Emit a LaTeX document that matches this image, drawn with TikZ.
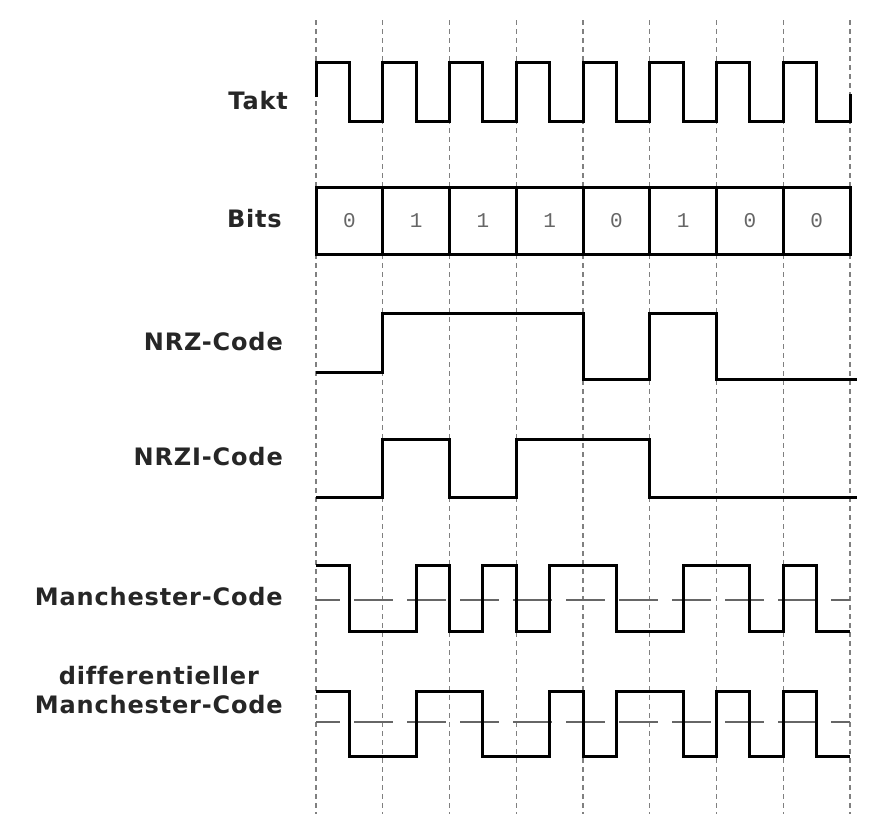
\documentclass[tikz,border=0pt]{standalone}
\usepackage{fontspec}
\newfontfamily\labfont{DejaVu Sans}[LetterSpace=3.5, Ligatures={NoCommon}]
\newfontfamily\bitfont{Liberation Mono}
\tikzset{
  grid/.style={draw=black!50, line width=1.3pt, dash pattern=on 5pt off 4pt},
  midline/.style={draw=black!60, line width=1.5pt, dash pattern=on 39pt off 14pt, dash phase=15pt},
  signal/.style={draw=black, line width=3pt, line join=miter, line cap=butt},
  lab/.style={font=\labfont\bfseries\fontsize{24}{28.7}\selectfont, text=black!85, inner sep=0pt, anchor=base east},
  bit/.style={font=\bitfont\fontsize{21}{21}\selectfont, text=black!60, inner sep=0pt}
}
\begin{document}
\begin{tikzpicture}[x=1pt, y=-1pt]
\useasboundingbox (0,0) rectangle (870,814);
\fill[white] (0,0) rectangle (870,814);
% labels
\node[lab] (ltakt) at (288,109) {Takt};
\node[lab] (lbits) at (282,227) {Bits};
\node[lab] (lnrz) at (283,350) {NRZ-Code};
\node[lab] (lnrzi) at (283,465) {NRZI-Code};
\node[lab] (lman) at (283,605) {Manchester-Code};
\node[lab, align=center] (ldman) at (283,713) {differentieller\\Manchester-Code};
\begin{scope}[xshift=316pt, x=66.75pt]
  % vertical grid lines
  \foreach \i in {0,...,8} {
    \draw[grid] (\i,20) -- (\i,814);
  }
  % Takt
  \draw[signal] (0,97) foreach \i in {0,...,7} { -- (\i,62) -- (\i+0.5,62) -- (\i+0.5,121) -- (\i+1,121) } -- (8,94);
  % Bits
  \fill[white] (0,187) rectangle (8,254);
  \draw[signal] (0,187) rectangle (8,254);
  \foreach \i in {1,...,7} {
    \draw[signal] (\i,187) -- (\i,254);
  }
  \foreach \b [count=\i from 0] in {0,1,1,1,0,1,0,0} {
    \node[bit] (b\i) at (\i+0.5,221) {\b};
  }
  % NRZ
  \draw[signal] (0,372) -- (1,372) -- (1,313) -- (4,313) -- (4,379) -- (5,379) -- (5,313) -- (6,313) -- (6,379) -- (8.1,379);
  % NRZI
  \draw[signal] (0,497) -- (1,497) -- (1,439) -- (2,439) -- (2,497) -- (3,497) -- (3,439) -- (5,439) -- (5,497) -- (8.1,497);
  % Manchester
  \draw[midline] (0,600) -- (8,600);
  \draw[signal] (0,565) -- (0.5,565) -- (0.5,631) -- (1.5,631) -- (1.5,565) -- (2,565) -- (2,631) -- (2.5,631) -- (2.5,565) -- (3,565) -- (3,631) -- (3.5,631) -- (3.5,565) -- (4.5,565) -- (4.5,631) -- (5.5,631) -- (5.5,565) -- (6.5,565) -- (6.5,631) -- (7,631) -- (7,565) -- (7.5,565) -- (7.5,631) -- (8,631);
  % differential Manchester
  \draw[midline] (0,722) -- (8,722);
  \draw[signal] (0,691) -- (0.5,691) -- (0.5,756) -- (1.5,756) -- (1.5,691) -- (2.5,691) -- (2.5,756) -- (3.5,756) -- (3.5,691) -- (4,691) -- (4,756) -- (4.5,756) -- (4.5,691) -- (5.5,691) -- (5.5,756) -- (6,756) -- (6,691) -- (6.5,691) -- (6.5,756) -- (7,756) -- (7,691) -- (7.5,691) -- (7.5,756) -- (8,756);
\end{scope}
\end{tikzpicture}
\end{document}
